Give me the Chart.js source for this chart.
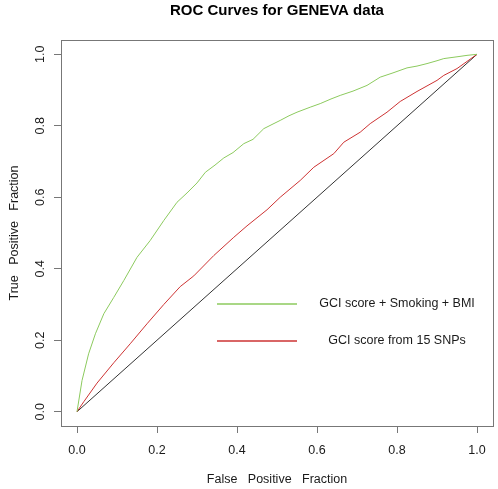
<!DOCTYPE html>
<html>
<head>
<meta charset="utf-8">
<script src="https://cdn.jsdelivr.net/npm/chart.js@4"></script>
<style>
  html, body { margin: 0; padding: 0; background: #fff; }
  canvas { display: block; }
</style>
</head>
<body>
<canvas id="rocChart" width="498" height="489"></canvas>
<script>
// ROC curve points (false positive fraction -> true positive fraction)
const fullX = [0, 0.0125, 0.029, 0.046, 0.067, 0.092, 0.117, 0.15, 0.183, 0.217, 0.25, 0.275, 0.3, 0.321, 0.345, 0.367, 0.39, 0.417, 0.44, 0.467, 0.49, 0.508, 0.53, 0.55, 0.583, 0.608, 0.635, 0.658, 0.69, 0.725, 0.758, 0.79, 0.825, 0.85, 0.875, 0.9, 0.917, 0.95, 0.975, 1];
const fullY = [0, 0.087, 0.162, 0.218, 0.274, 0.32, 0.367, 0.432, 0.479, 0.535, 0.586, 0.612, 0.64, 0.67, 0.69, 0.71, 0.725, 0.75, 0.762, 0.792, 0.805, 0.815, 0.828, 0.838, 0.852, 0.862, 0.875, 0.885, 0.897, 0.913, 0.936, 0.948, 0.962, 0.967, 0.974, 0.982, 0.988, 0.993, 0.997, 1];

const snpX = [0, 0.017, 0.05, 0.092, 0.133, 0.175, 0.217, 0.258, 0.292, 0.342, 0.392, 0.425, 0.475, 0.508, 0.558, 0.592, 0.642, 0.667, 0.708, 0.733, 0.775, 0.808, 0.85, 0.9, 0.917, 0.95, 0.975, 1];
const snpY = [0, 0.028, 0.08, 0.137, 0.19, 0.246, 0.3, 0.35, 0.38, 0.437, 0.488, 0.52, 0.565, 0.6, 0.647, 0.684, 0.722, 0.754, 0.782, 0.806, 0.838, 0.868, 0.896, 0.927, 0.941, 0.96, 0.98, 1];

const chanceX = [0, 1];
const chanceY = [0, 1];

const seriesNames = ['GCI score + Smoking + BMI', 'GCI score from 15 SNPs'];
const tickValues = [0, 0.2, 0.4, 0.6, 0.8, 1.0];

const FONT = 'Liberation Sans, Arial, Helvetica, sans-serif';
const green = '#8cca5e';
const red = '#cd3333';
const boxGray = '#777777';

function toPoints(xs, ys) {
  return xs.map((x, i) => ({ x: x, y: ys[i] }));
}

// box round the plot region and the legend, drawn like the R original
const boxAndLegend = {
  id: 'boxAndLegend',
  afterDraw(chart) {
    const { ctx, chartArea } = chart;
    ctx.save();
    ctx.strokeStyle = boxGray;
    ctx.lineWidth = 1;
    ctx.strokeRect(Math.round(chartArea.left) + 0.5, Math.round(chartArea.top) + 0.5,
      Math.round(chartArea.right - chartArea.left), Math.round(chartArea.bottom - chartArea.top));

    const items = [
      { color: green, text: seriesNames[0], y: 304 },
      { color: red, text: seriesNames[1], y: 341 }
    ];
    ctx.font = '12.5px ' + FONT;
    ctx.textAlign = 'center';
    ctx.textBaseline = 'middle';
    items.forEach(it => {
      ctx.strokeStyle = it.color;
      ctx.lineWidth = 1.5;
      ctx.beginPath();
      ctx.moveTo(217, it.y);
      ctx.lineTo(297, it.y);
      ctx.stroke();
      ctx.fillStyle = '#1a1a1a';
      ctx.fillText(it.text, 397, it.y);
    });
    ctx.restore();
  }
};

const fixTicks = scale => {
  scale.ticks = tickValues.map(v => ({ value: v }));
};

new Chart(document.getElementById('rocChart'), {
  type: 'scatter',
  data: {
    datasets: [
      {
        label: seriesNames[0],
        data: toPoints(fullX, fullY),
        showLine: true,
        borderColor: green,
        borderWidth: 1,
        pointRadius: 0,
        tension: 0
      },
      {
        label: seriesNames[1],
        data: toPoints(snpX, snpY),
        showLine: true,
        borderColor: red,
        borderWidth: 1,
        pointRadius: 0,
        tension: 0
      },
      {
        label: 'chance',
        data: toPoints(chanceX, chanceY),
        showLine: true,
        borderColor: '#333333',
        borderWidth: 1,
        pointRadius: 0
      }
    ]
  },
  options: {
    responsive: false,
    animation: false,
    events: [],
    layout: { padding: { left: 0, right: 5, top: 0, bottom: 0 } },
    plugins: {
      legend: { display: false },
      tooltip: { enabled: false },
      title: {
        display: true,
        fullSize: false,
        text: 'ROC Curves for GENEVA data',
        color: '#000',
        font: { family: FONT, size: 15, weight: 'bold' },
        padding: { top: 2, bottom: 20 }
      }
    },
    scales: {
      x: {
        type: 'linear',
        min: -0.04,
        max: 1.04,
        afterBuildTicks: fixTicks,
        afterFit: s => { s.height = 63; },
        grid: { drawOnChartArea: false, drawTicks: true, tickLength: 7, color: boxGray },
        border: { display: false },
        ticks: {
          color: '#1a1a1a',
          padding: 10,
          maxRotation: 0,
          font: { family: FONT, size: 12.5 },
          callback: v => v.toFixed(1)
        },
        title: {
          display: true,
          text: 'False   Positive   Fraction',
          color: '#1a1a1a',
          font: { family: FONT, size: 12.5 },
          padding: { top: 0, bottom: 2 }
        }
      },
      y: {
        type: 'linear',
        min: -0.04,
        max: 1.04,
        afterBuildTicks: fixTicks,
        afterFit: s => { s.width = 61; },
        grid: { drawOnChartArea: false, drawTicks: true, tickLength: 7, color: boxGray },
        border: { display: false },
        ticks: {
          color: '#1a1a1a',
          padding: 5,
          minRotation: 90,
          maxRotation: 90,
          crossAlign: 'center',
          font: { family: FONT, size: 12.5 },
          callback: v => v.toFixed(1)
        },
        title: {
          display: true,
          text: 'True   Positive   Fraction',
          color: '#1a1a1a',
          font: { family: FONT, size: 12.5 },
          padding: { top: 7, bottom: 0 }
        }
      }
    }
  },
  plugins: [boxAndLegend]
});
</script>
</body>
</html>
